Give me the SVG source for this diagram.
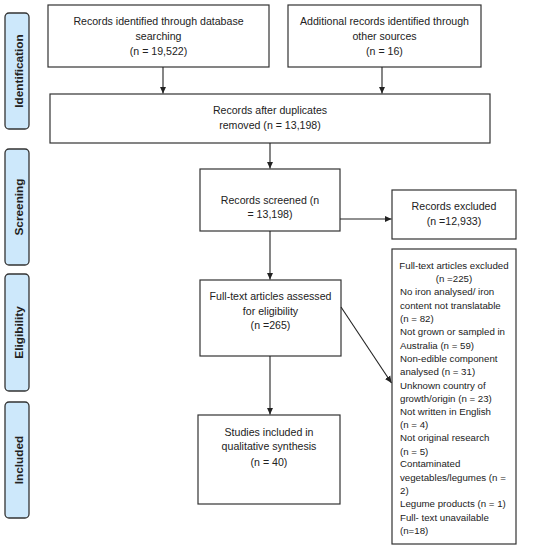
<svg xmlns="http://www.w3.org/2000/svg" width="541" height="550" viewBox="0 0 541 550">
<style>
.box{fill:#fff;stroke:#333;stroke-width:1.2}
.lab{fill:#cde8fb;stroke:#333;stroke-width:1.3}
.t{font-family:"Liberation Sans",Arial,sans-serif;font-size:10.6px;fill:#222}
.s{font-size:9.7px}
.c{text-anchor:middle}
.b{font-family:"Liberation Sans",Arial,sans-serif;font-size:11.8px;font-weight:bold;fill:#222;text-anchor:middle}
.ln{stroke:#222;stroke-width:1.1;fill:none}
</style>
<defs>
<marker id="ah" markerWidth="8" markerHeight="8" refX="7" refY="4" orient="auto" markerUnits="userSpaceOnUse">
<path d="M0,0.8 L7,4 L0,7.2 Z" fill="#222"/>
</marker>
</defs>
<rect width="541" height="550" fill="#fff"/>

<g id="label-identification">
<rect class="lab" x="5" y="13" width="24" height="116" rx="4"/>
<text class="b" transform="translate(23,71) rotate(-90)">Identification</text>
</g>
<g id="label-screening">
<rect class="lab" x="5" y="149" width="24" height="116" rx="4"/>
<text class="b" transform="translate(23,207) rotate(-90)">Screening</text>
</g>
<g id="label-eligibility">
<rect class="lab" x="5" y="274" width="24" height="117" rx="4"/>
<text class="b" transform="translate(23,332.5) rotate(-90)">Eligibility</text>
</g>
<g id="label-included">
<rect class="lab" x="5" y="402" width="24" height="116" rx="4"/>
<text class="b" transform="translate(23,460) rotate(-90)">Included</text>
</g>

<g id="node-db">
<rect class="box" x="48" y="5" width="221" height="62"/>
<text class="t c" x="158.5" y="25">Records identified through database</text>
<text class="t c" x="158.5" y="40">searching</text>
<text class="t c" x="158.5" y="55">(n = 19,522)</text>
</g>
<g id="node-other">
<rect class="box" x="288" y="5" width="193" height="62"/>
<text class="t c" x="384.5" y="25">Additional records identified through</text>
<text class="t c" x="384.5" y="40">other sources</text>
<text class="t c" x="384.5" y="55">(n = 16)</text>
</g>
<g id="node-dup">
<rect class="box" x="50" y="94" width="440" height="49"/>
<text class="t c" x="270" y="114">Records after duplicates</text>
<text class="t c" x="270" y="129">removed (n = 13,198)</text>
</g>
<g id="node-screened">
<rect class="box" x="200" y="169" width="140" height="62"/>
<text class="t c" x="270" y="204">Records screened (n</text>
<text class="t c" x="270" y="218">= 13,198)</text>
</g>
<g id="node-excluded">
<rect class="box" x="392" y="190" width="124" height="49"/>
<text class="t c" x="454" y="210">Records excluded</text>
<text class="t c" x="454" y="225">(n =12,933)</text>
</g>
<g id="node-assessed">
<rect class="box" x="200" y="280" width="141" height="76"/>
<text class="t c" x="270.5" y="300">Full-text articles assessed</text>
<text class="t c" x="270.5" y="315">for eligibility</text>
<text class="t c" x="270.5" y="329">(n =265)</text>
</g>
<g id="node-fulltext-excluded">
<rect class="box" x="392" y="249" width="124" height="295"/>
<text class="t s c" x="454" y="269">Full-text articles excluded</text>
<text class="t s c" x="454" y="282">(n =225)</text>
<text class="t s" x="400" y="295">No iron analysed/ iron</text>
<text class="t s" x="400" y="308.5">content not translatable</text>
<text class="t s" x="400" y="322">(n = 82)</text>
<text class="t s" x="400" y="335">Not grown or sampled in</text>
<text class="t s" x="400" y="348.5">Australia (n = 59)</text>
<text class="t s" x="400" y="362">Non-edible component</text>
<text class="t s" x="400" y="375">analysed (n = 31)</text>
<text class="t s" x="400" y="388.5">Unknown country of</text>
<text class="t s" x="400" y="402">growth/origin (n = 23)</text>
<text class="t s" x="400" y="415">Not written in English</text>
<text class="t s" x="400" y="428">(n = 4)</text>
<text class="t s" x="400" y="441">Not original research</text>
<text class="t s" x="400" y="454.5">(n = 5)</text>
<text class="t s" x="400" y="467">Contaminated</text>
<text class="t s" x="400" y="481">vegetables/legumes (n =</text>
<text class="t s" x="400" y="494">2)</text>
<text class="t s" x="400" y="507">Legume products (n = 1)</text>
<text class="t s" x="400" y="521">Full- text unavailable</text>
<text class="t s" x="400" y="534">(n=18)</text>
</g>
<g id="node-included">
<rect class="box" x="198" y="415" width="142" height="89"/>
<text class="t c" x="269" y="436">Studies included in</text>
<text class="t c" x="269" y="450">qualitative synthesis</text>
<text class="t c" x="269" y="466">(n = 40)</text>
</g>

<g id="connectors">
<line class="ln" x1="163" y1="67" x2="163" y2="93.5" marker-end="url(#ah)"/>
<line class="ln" x1="382" y1="67" x2="382" y2="93.5" marker-end="url(#ah)"/>
<line class="ln" x1="270" y1="143" x2="270" y2="168.5" marker-end="url(#ah)"/>
<line class="ln" x1="340" y1="219" x2="391.5" y2="219" marker-end="url(#ah)"/>
<line class="ln" x1="270" y1="231" x2="270" y2="279.5" marker-end="url(#ah)"/>
<line class="ln" x1="341" y1="307" x2="391.5" y2="383" marker-end="url(#ah)"/>
<line class="ln" x1="270" y1="356" x2="270" y2="414.5" marker-end="url(#ah)"/>
</g>
</svg>
